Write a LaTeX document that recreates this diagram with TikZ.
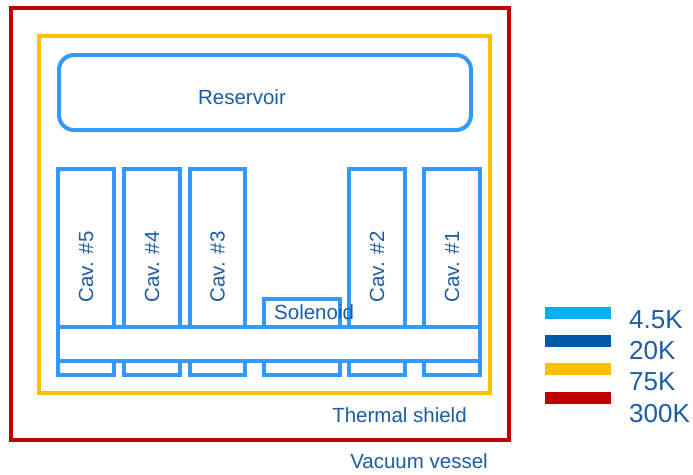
\documentclass[tikz,border=0pt]{standalone}
\usepackage{fontspec}
\setmainfont{Liberation Sans}
\definecolor{boxblue}{RGB}{51,153,255}
\definecolor{txtblue}{RGB}{28,92,165}
\definecolor{lightblue}{RGB}{0,176,240}
\definecolor{darkblue}{RGB}{0,88,168}
\definecolor{amber}{RGB}{255,192,0}
\definecolor{darkred}{RGB}{192,0,0}
\begin{document}
\begin{tikzpicture}[x=1pt,y=-1pt,
  part/.style={draw=boxblue,line width=4pt,fill=white,inner sep=0pt,outer sep=0pt},
  lbl/.style={text=txtblue,font=\fontsize{20.5}{24}\selectfont,inner sep=0pt},
  leg/.style={text=txtblue,font=\fontsize{26}{30}\selectfont,inner sep=0pt,anchor=west},
  swatch/.style={inner sep=0pt,outer sep=0pt,minimum width=66pt,minimum height=12pt}]
\useasboundingbox (0,0) rectangle (693,474);
% vessel and shield
\node[draw=darkred,line width=4pt,inner sep=0pt,minimum width=498pt,minimum height=432pt] (vessel) at (260,224) {};
\node[draw=amber,line width=4pt,inner sep=0pt,minimum width=451pt,minimum height=357pt] (shield) at (264.5,214.5) {};
% reservoir
\node[part,rounded corners=15pt,minimum width=412pt,minimum height=75pt] (res) at (265,92.5) {};
\node[lbl] (restxt) at (242,97) {Reservoir};
% cavities
\node[part,minimum width=56pt,minimum height=206pt] (c5) at (86,272) {};
\node[part,minimum width=56pt,minimum height=206pt] (c4) at (152,272) {};
\node[part,minimum width=55pt,minimum height=206pt] (c3) at (217.5,272) {};
\node[part,minimum width=56pt,minimum height=206pt] (c2) at (377,272) {};
\node[part,minimum width=56pt,minimum height=206pt] (c1) at (452,272) {};
\node[part,minimum width=76pt,minimum height=76pt] (sol) at (302,337) {};
% bar
\node[part,minimum width=422pt,minimum height=34pt] (bar) at (269,344) {};
% texts
\node[lbl,rotate=90] (t5) at (86,267) {Cav. \#5};
\node[lbl,rotate=90] (t4) at (152,267) {Cav. \#4};
\node[lbl,rotate=90] (t3) at (217.5,267) {Cav. \#3};
\node[lbl,rotate=90] (t2) at (377,267) {Cav. \#2};
\node[lbl,rotate=90] (t1) at (452,267) {Cav. \#1};
\node[lbl,anchor=west] (soltxt) at (274,312) {Solenoid};
\node[lbl] (shtxt) at (399.5,415) {Thermal shield};
\node[lbl] (vvtxt) at (419,461.5) {Vacuum vessel};
% legend
\node[swatch,fill=lightblue] (s1) at (578,313) {};
\node[swatch,fill=darkblue] (s2) at (578,341) {};
\node[swatch,fill=amber] (s3) at (578,369) {};
\node[swatch,fill=darkred] (s4) at (578,397.5) {};
\node[leg] (l1) at (629,320) {4.5K};
\node[leg] (l2) at (629,351) {20K};
\node[leg] (l3) at (629,382) {75K};
\node[leg] (l4) at (629,414) {300K};
\end{tikzpicture}
\end{document}
